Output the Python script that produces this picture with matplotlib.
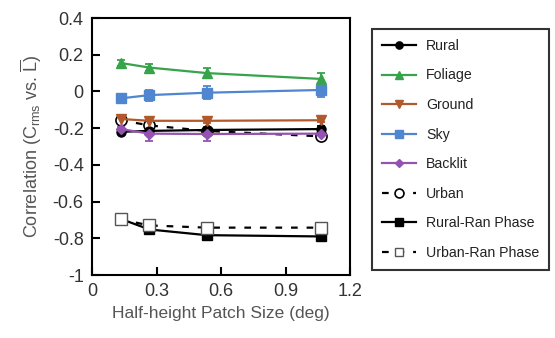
import matplotlib
matplotlib.use("Agg")
import matplotlib.pyplot as plt
import numpy as np

plt.rcParams['font.family'] = ['Liberation Sans', 'DejaVu Sans']
plt.rcParams['axes.unicode_minus'] = False
plt.rcParams['mathtext.fontset'] = 'custom'
plt.rcParams['mathtext.rm'] = 'Liberation Sans'

# patch sizes (deg)
patch = [0.133, 0.267, 0.533, 1.067]
labels = ['Rural', 'Foliage', 'Ground', 'Sky', 'Backlit',
          'Urban', 'Rural-Ran Phase', 'Urban-Ran Phase']

rural = [-0.22, -0.215, -0.21, -0.205]
rural_err = [0.012, 0.012, 0.012, 0.015]
foliage = [0.155, 0.13, 0.10, 0.068]
foliage_err = [0.018, 0.02, 0.025, 0.03]
ground = [-0.15, -0.16, -0.16, -0.157]
ground_err = [0.01, 0.01, 0.01, 0.012]
sky = [-0.038, -0.02, -0.007, 0.008]
sky_err = [0.02, 0.03, 0.035, 0.04]
backlit = [-0.205, -0.23, -0.232, -0.23]
backlit_err = [0.012, 0.04, 0.04, 0.035]
urban = [-0.157, -0.185, -0.215, -0.245]
rural_ran = [-0.694, -0.752, -0.783, -0.79]
urban_ran = [-0.697, -0.73, -0.742, -0.742]

green = '#37a34a'
brown = '#b1592b'
blue = '#4f86cf'
purple = '#9453b0'
grey = '#555555'

fig = plt.figure(figsize=(5.55, 3.38), dpi=100)
ax = fig.add_axes([92 / 555, 1 - 275 / 338, (350 - 92) / 555, (275 - 18) / 338])

eb = dict(capsize=3, elinewidth=1.3, capthick=1.3, lw=1.6, ms=6.5)
handles = []
for vals, err, col, mk in [(rural, rural_err, 'black', 'o'),
                           (foliage, foliage_err, green, '^'),
                           (ground, ground_err, brown, 'v'),
                           (sky, sky_err, blue, 's'),
                           (backlit, backlit_err, purple, 'D')]:
    opts = dict(eb)
    if mk == 'D':
        opts['ms'] = 5
    h = ax.errorbar(patch, vals, yerr=err, color=col, marker=mk, **opts)
    handles.append(h.lines[0])
handles += ax.plot(patch, urban, color='black', ls=(0, (3, 4)), lw=1.6, marker='o', ms=8,
                   mfc='white', mec='black', mew=1.2)
handles += ax.plot(patch, rural_ran, color='black', lw=1.6, marker='s', ms=7)
handles += ax.plot(patch, urban_ran, color='black', ls=(0, (3, 4)), lw=1.6, marker='s', ms=8,
                   mfc='white', mec=grey, mew=1.0)

ax.set_xlim(0, 1.2)
ax.set_ylim(-1, 0.4)
ax.set_xticks([0, 0.3, 0.6, 0.9, 1.2])
ax.set_xticklabels(['0', '0.3', '0.6', '0.9', '1.2'])
ax.set_yticks(np.arange(-1, 0.41, 0.2))
ax.set_yticklabels(['-1', '-0.8', '-0.6', '-0.4', '-0.2', '0', '0.2', '0.4'])
ax.tick_params(direction='in', length=6, width=1.5, labelsize=13, labelcolor='#333333', pad=6)
for s in ax.spines.values():
    s.set_linewidth(1.5)

ax.set_xlabel('Half-height Patch Size (deg)', fontsize=12.5, color=grey, labelpad=4)
ax.set_ylabel(r'Correlation (C$_\mathregular{rms}$ vs. $\mathregular{\overline{L}}$)',
              fontsize=13, color=grey, labelpad=6)

leg = fig.legend(handles, labels, loc='upper left',
                 bbox_to_anchor=(372 / 555, 1 - 29 / 338), fontsize=10.2, markerscale=0.8,
                 frameon=True, fancybox=False, edgecolor='black', handlelength=2.4,
                 labelspacing=1.1, borderpad=0.7, handletextpad=0.7, borderaxespad=0)
leg.get_frame().set_linewidth(1.5)
leg.get_frame().set_width(553 - 372)
for t in leg.get_texts():
    t.set_color('#222222')

fig.savefig('out.png', dpi=100)
